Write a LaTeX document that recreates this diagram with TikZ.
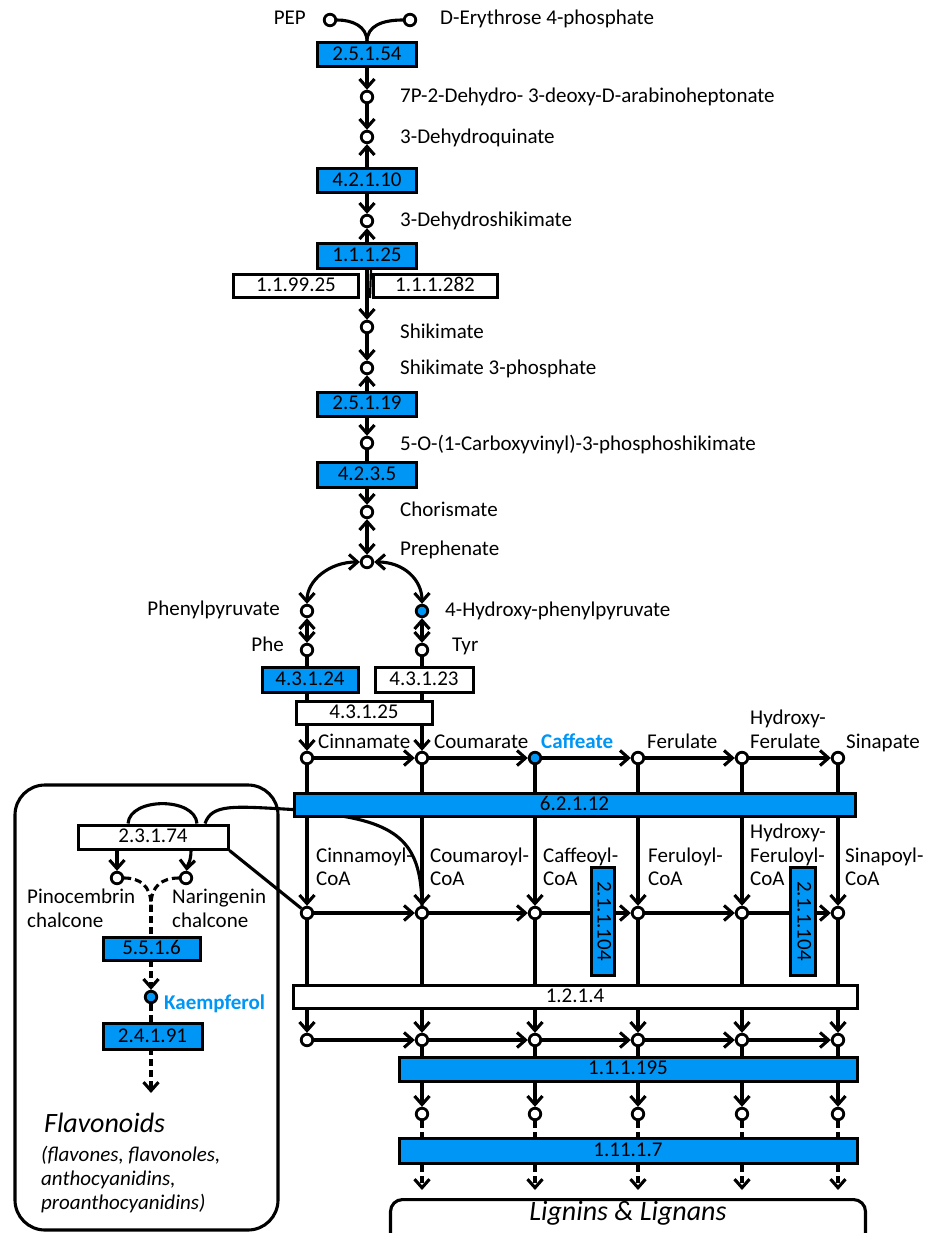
\documentclass[tikz,border=0pt]{standalone}
\usepackage{fontspec}
\setmainfont{Carlito}
\usetikzlibrary{arrows.meta,calc}
\pgfdeclarelayer{bg}
\pgfsetlayers{bg,main}
\definecolor{eb}{RGB}{0,150,245}
\tikzset{
  lw/.style={line width=3.1pt},
  tip/.style={-{Straight Barb[length=8.5pt,width=15pt]}},
  rev/.style={{Straight Barb[length=8.5pt,width=15pt]}-{Straight Barb[length=8.5pt,width=15pt]}},
  met/.style={circle,draw,line width=2.8pt,fill=white,minimum size=11.5pt,inner sep=0pt},
  metb/.style={met,fill=eb},
  enz/.style={draw,line width=3pt,fill=eb,inner sep=0pt,font=\fontsize{21}{24}\selectfont,text height=13pt,text depth=2pt},
  enzw/.style={enz,fill=white},
  lab/.style={font=\fontsize{21}{24}\selectfont,text height=14pt,text depth=4pt,inner sep=0pt},
  labb/.style={lab,font=\fontsize{21}{24}\selectfont\bfseries,text=eb},
  dsh/.style={dash pattern=on 7pt off 4pt},
}
\begin{document}
\begin{tikzpicture}[x=1pt,y=-1pt]
\useasboundingbox (0,0) rectangle (933,1233);

% ---------- metabolites (main column)
\node[met] (pep) at (330,20) {};
\node[met] (e4p) at (410,20) {};
\node[met] (dahp) at (367,97) {};
\node[met] (dhq) at (367,137) {};
\node[met] (dhs) at (367,221) {};
\node[met] (shk) at (367,327) {};
\node[met] (s3p) at (367,368) {};
\node[met] (epsp) at (367,443) {};
\node[met] (cho) at (367,512) {};
\node[met] (pre) at (367,562) {};
\node[met] (ppy) at (307,611) {};
\node[metb] (hpp) at (422,611) {};
\node[met] (phe) at (307,650) {};
\node[met] (tyr) at (422,650) {};

% ---------- grid rows
\foreach \i/\x in {1/307,2/422,4/638,5/742,6/838} {\node[met] (a\i) at (\x,758) {};}
\node[metb] (a3) at (535,758) {};
\foreach \i/\x in {1/307,2/422,3/535,4/638,5/742,6/838} {
  \node[met] (b\i) at (\x,913) {};
  \node[met] (d\i) at (\x,1040) {};
}
\foreach \i/\x in {2/422,3/535,4/638,5/742,6/838} {
  \node[met] (f\i) at (\x,1114) {};
  \coordinate (g\i) at (\x,1190);
}

% ---------- flavonoid branch metabolites
\node[met] (pin) at (117,878) {};
\node[met] (nar) at (186,878) {};
\coordinate (m) at (151,905);
\node[metb] (kae) at (151,997) {};
\coordinate (fl) at (151,1093);

% ---------- enzymes
\node[enz,minimum width=99pt,minimum height=24pt] (e1) at (367,55) {2.5.1.54};
\node[enz,minimum width=99pt,minimum height=24pt] (e2) at (367,181) {4.2.1.10};
\node[enz,minimum width=99pt,minimum height=24pt] (e3) at (367,256) {1.1.1.25};
\node[enzw,minimum width=125pt,minimum height=23pt] (e4) at (296,286) {1.1.99.25};
\node[enzw,minimum width=124pt,minimum height=23pt] (e5) at (435,286) {1.1.1.282};
\node[enz,minimum width=99pt,minimum height=24pt] (e6) at (367,404) {2.5.1.19};
\node[enz,minimum width=99pt,minimum height=25pt] (e7) at (367,475) {4.2.3.5};
\node[enz,minimum width=96pt,minimum height=25pt] (e8) at (310,680) {4.3.1.24};
\node[enzw,minimum width=98pt,minimum height=25pt] (e9) at (424,680) {4.3.1.23};
\node[enzw,minimum width=136pt,minimum height=23pt] (e10) at (364,713) {4.3.1.25};
\node[enz,minimum width=561pt,minimum height=23pt] (e11) at (574.5,804.5) {6.2.1.12};
\node[enz,rotate=-90,minimum width=108pt,minimum height=23pt] (e12) at (603,921) {2.1.1.104};
\node[enz,rotate=-90,minimum width=108pt,minimum height=25pt] (e13) at (803,921) {2.1.1.104};
\node[enzw,minimum width=564pt,minimum height=23pt] (e14) at (575,996.5) {1.2.1.4};
\node[enz,minimum width=458pt,minimum height=24pt] (e15) at (628,1069) {1.1.1.195};
\node[enz,minimum width=458pt,minimum height=25pt] (e16) at (628,1150.5) {1.11.1.7};
\node[enzw,minimum width=150pt,minimum height=24pt] (e17) at (153,837) {2.3.1.74};
\node[enz,minimum width=97pt,minimum height=23pt] (e18) at (151.5,948.5) {5.5.1.6};
\node[enz,minimum width=99pt,minimum height=26pt] (e19) at (152.5,1036.5) {2.4.1.91};

% ---------- end products
\node[draw,lw,rounded corners=12pt,fill=white,minimum width=475pt,minimum height=56pt,anchor=north] (lig) at (628,1198) {};
\node[inner sep=0pt,font=\fontsize{28}{32}\selectfont\itshape,text height=18pt,text depth=6pt] (ligt) at (628,1214) {Lignins \& Lignans};
\node[anchor=west,inner sep=0pt,font=\fontsize{28}{32}\selectfont\itshape] (flv) at (44,1123) {Flavonoids};
\node[lab,anchor=west,font=\fontsize{21}{24}\selectfont\itshape] (flv1) at (41,1156) {(flavones, flavonoles,};
\node[lab,anchor=west,font=\fontsize{21}{24}\selectfont\itshape] (flv2) at (41,1180) {anthocyanidins,};
\node[lab,anchor=west,font=\fontsize{21}{24}\selectfont\itshape] (flv3) at (41,1204) {proanthocyanidins)};

% ---------- labels main column
\node[lab,anchor=east] (tpep) at (306,20) {PEP};
\node[lab,anchor=west] (te4p) at (440,20) {D-Erythrose 4-phosphate};
\node[lab,anchor=west] (tdahp) at (400,98) {7P-2-Dehydro- 3-deoxy-D-arabinoheptonate};
\node[lab,anchor=west] (tdhq) at (400,139) {3-Dehydroquinate};
\node[lab,anchor=west] (tdhs) at (400,222) {3-Dehydroshikimate};
\node[lab,anchor=west] (tshk) at (400,333) {Shikimate};
\node[lab,anchor=west] (ts3p) at (400,369) {Shikimate 3-phosphate};
\node[lab,anchor=west] (tepsp) at (400,445) {5-O-(1-Carboxyvinyl)-3-phosphoshikimate};
\node[lab,anchor=west] (tcho) at (400,511) {Chorismate};
\node[lab,anchor=west] (tpre) at (400,550) {Prephenate};
\node[lab,anchor=east] (tppy) at (280,610) {Phenylpyruvate};
\node[lab,anchor=west] (thpp) at (445,611) {4-Hydroxy-phenylpyruvate};
\node[lab,anchor=east] (tphe) at (284,646) {Phe};
\node[lab,anchor=west] (ttyr) at (452,646) {Tyr};

% ---------- labels row 1
\node[lab,anchor=west] (ta1) at (318,743) {Cinnamate};
\node[lab,anchor=west] (ta2) at (434,743) {Coumarate};
\node[labb,anchor=west] (ta3) at (541,743) {Caffeate};
\node[lab,anchor=west] (ta4) at (647,743) {Ferulate};
\node[lab,anchor=west] (ta5a) at (750,719) {Hydroxy-};
\node[lab,anchor=west] (ta5b) at (750,743) {Ferulate};
\node[lab,anchor=west] (ta6) at (846,743) {Sinapate};

% ---------- labels row 2
\node[lab,anchor=west] (tb1a) at (316,857) {Cinnamoyl-};
\node[lab,anchor=west] (tb1b) at (316,880) {CoA};
\node[lab,anchor=west] (tb2a) at (430,857) {Coumaroyl-};
\node[lab,anchor=west] (tb2b) at (430,880) {CoA};
\node[lab,anchor=west] (tb3a) at (543,857) {Caffeoyl-};
\node[lab,anchor=west] (tb3b) at (543,880) {CoA};
\node[lab,anchor=west] (tb4a) at (648,857) {Feruloyl-};
\node[lab,anchor=west] (tb4b) at (648,880) {CoA};
\node[lab,anchor=west] (tb5a) at (750,833) {Hydroxy-};
\node[lab,anchor=west] (tb5b) at (750,857) {Feruloyl-};
\node[lab,anchor=west] (tb5c) at (750,880) {CoA};
\node[lab,anchor=west] (tb6a) at (845,857) {Sinapoyl-};
\node[lab,anchor=west] (tb6b) at (845,880) {CoA};

% ---------- flavonoid labels
\node[lab,anchor=west] (tpin1) at (27,898) {Pinocembrin};
\node[lab,anchor=west] (tpin2) at (27,922) {chalcone};
\node[lab,anchor=west] (tnar1) at (172,898) {Naringenin};
\node[lab,anchor=west] (tnar2) at (172,922) {chalcone};
\node[labb,anchor=west] (tkae) at (164,1004) {Kaempferol};

% ---------- connectors
\begin{pgfonlayer}{bg}
\draw[lw,rounded corners=30pt] (15,785) rectangle (278,1230);

\draw[lw] (pep) .. controls (352,20) and (367,26) .. (e1.north);
\draw[lw] (e4p) .. controls (382,20) and (367,26) .. (e1.north);
\draw[lw,tip] (e1) -- (dahp);
\draw[lw,tip] (dahp) -- (dhq);
\draw[lw,rev] (dhq) -- (dhs);
\draw[lw,rev] (dhs) -- (shk);
\draw[line width=2.2pt] ($(e3.south)+(4,0)$) -- ($(e4.east)+(10,12)$);
\draw[lw,tip] (shk) -- (s3p);
\draw[lw,rev] (s3p) -- (epsp);
\draw[lw,tip] (epsp) -- (cho);
\draw[lw,rev] (cho) -- (pre);
\draw[lw,rev] (ppy) .. controls (307,580) and (330,562) .. (pre);
\draw[lw,rev] (hpp) .. controls (422,580) and (404,562) .. (pre);
\draw[lw,rev] (ppy) -- (phe);
\draw[lw,rev] (hpp) -- (tyr);
\draw[lw,tip] (phe) -- (a1);
\draw[lw,tip] (tyr) -- (a2);

\foreach \p/\q in {1/2,2/3,3/4,4/5,5/6} {
  \draw[lw,tip] (a\p) -- (a\q);
  \draw[lw,tip] (b\p) -- (b\q);
  \draw[lw,tip] (d\p) -- (d\q);
}
\foreach \i in {1,...,6} {
  \draw[lw,tip] (a\i) -- (b\i);
  \draw[lw,tip] (b\i) -- (d\i);
}
\foreach \i in {2,...,6} {
  \draw[lw,tip] (d\i) -- (f\i);
  \draw[lw,dsh,tip] (f\i) -- (g\i);
}

% flavonoid branch
\draw[lw] ($(e17.north)+(-25,0)$) .. controls (130,797) and (195,797) .. ($(e17.north)+(44,0)$);
\draw[lw] ($(e17.north)+(52,0)$) .. controls (212,804) and (232,806) .. ($(e11.west)+(0,5)$)
   -- (335,815) .. controls (405,825) and (421,850) .. (b2.north);
\draw[lw] (e17.south east) -- (b1);
\draw[lw,tip] ($(e17.south)+(-36,0)$) -- (pin);
\draw[lw,tip] ($(e17.south)+(38,0)$) .. controls (191,862) and (187,866) .. (nar);
\draw[lw,dsh] (pin) .. controls (140,878) and (151,886) .. (m);
\draw[lw,dsh] (nar) .. controls (162,878) and (151,886) .. (m);
\draw[lw,dsh,tip] (m) -- (kae);
\draw[lw,dsh,tip] (kae) -- (fl);
\end{pgfonlayer}
\end{tikzpicture}
\end{document}
